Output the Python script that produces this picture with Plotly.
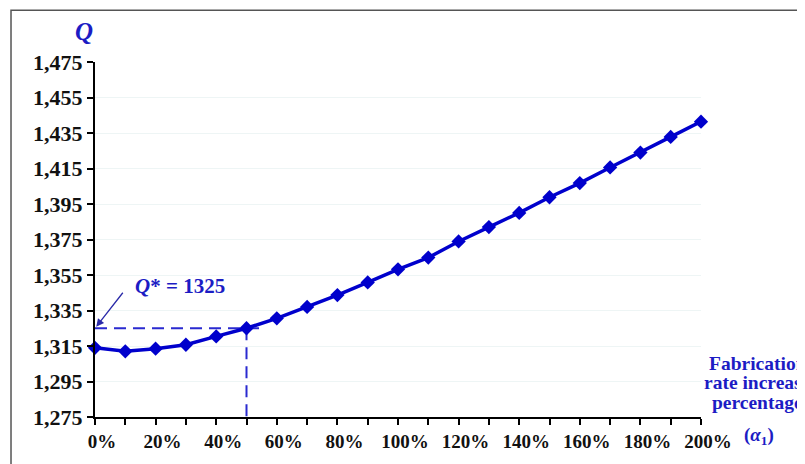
import plotly.graph_objects as go

# ---- data ----
alpha_pct = [0, 10, 20, 30, 40, 50, 60, 70, 80, 90, 100,
             110, 120, 130, 140, 150, 160, 170, 180, 190, 200]
q_values = [1314.0, 1312.0, 1313.5, 1315.7, 1320.4, 1325.0, 1330.6, 1337.0,
            1343.7, 1350.8, 1358.2, 1364.8, 1373.9, 1382.0, 1390.0, 1398.8,
            1406.8, 1415.6, 1424.0, 1432.8, 1441.4]
x_tick_vals = alpha_pct
x_tick_text = [f"<b>{v}%</b>" if v % 20 == 0 else "" for v in alpha_pct]
y_tick_vals = [1275, 1295, 1315, 1335, 1355, 1375, 1395, 1415, 1435, 1455, 1475]
y_tick_text = [f"<b>{v:,}</b>" for v in y_tick_vals]
q_star = 1325
alpha_star = 50

BLUE = "#0000cc"
TEXT_BLUE = "#1c1cc4"
FONT = "Liberation Serif"

fig = go.Figure()

# dashed guide lines to Q*
fig.add_trace(go.Scatter(x=[0, alpha_star + 5], y=[q_star, q_star], mode="lines",
                         line=dict(color="#2a2ad0", width=2, dash="12px,7px"),
                         hoverinfo="skip", showlegend=False, cliponaxis=False))
fig.add_trace(go.Scatter(x=[alpha_star, alpha_star], y=[q_star, 1275], mode="lines",
                         line=dict(color="#2a2ad0", width=2, dash="12px,7px"),
                         hoverinfo="skip", showlegend=False, cliponaxis=False))

fig.add_trace(go.Scatter(x=alpha_pct, y=q_values, mode="lines+markers",
                         line=dict(color=BLUE, width=3.5),
                         marker=dict(symbol="diamond", size=11, color=BLUE),
                         showlegend=False, cliponaxis=False))

fig.update_layout(
    width=797, height=456,
    margin=dict(l=87, r=104, t=54, b=45),
    paper_bgcolor="white", plot_bgcolor="white",
    font=dict(family=FONT, color="black"),
    xaxis=dict(range=[0, 200], tickmode="array", tickvals=x_tick_vals, ticktext=x_tick_text,
               showline=True, linecolor="black", linewidth=2,
               ticks="outside", ticklen=6, tickwidth=2, tickcolor="black",
               showgrid=False, zeroline=False, ticklabelshift=7,
               tickfont=dict(family=FONT, size=19, color="#111")),
    yaxis=dict(range=[1275, 1475], tickmode="array", tickvals=y_tick_vals, ticktext=y_tick_text,
               showline=True, linecolor="black", linewidth=2,
               ticks="outside", ticklen=6, tickwidth=2, tickcolor="black",
               showgrid=True, gridcolor="#eef5f5", gridwidth=1, zeroline=False,
               tickfont=dict(family=FONT, size=22, color="#111")),
)

# outer frame
fig.add_shape(type="rect", xref="paper", yref="paper",
              x0=-0.1386, x1=1.2, y0=-0.2, y1=1.1457,
              line=dict(color="#555555", width=1.5), fillcolor="rgba(0,0,0,0)", layer="below")

# axis title Q
fig.add_annotation(xref="paper", yref="paper", x=0.0, y=1.086, xanchor="right", yanchor="middle",
                   text="<b><i>Q</i></b>", showarrow=False,
                   font=dict(family=FONT, size=25, color=TEXT_BLUE))

# Q* annotation
fig.add_annotation(x=0, y=q_star, xref="x", yref="y", text="", showarrow=True,
                   ax=29, ay=-37, arrowhead=2, arrowsize=1.2, arrowwidth=1.3,
                   arrowcolor="#2a2aa8", standoff=2)
fig.add_annotation(x=12.5, y=1349, xref="x", yref="y", xanchor="left", yanchor="middle",
                   text="<b><i>Q</i>* = 1325</b>", showarrow=False,
                   font=dict(family=FONT, size=21, color=TEXT_BLUE))

# right side x-axis title
for line_text, ypos in [("Fabrication", 0.150), ("rate increase", 0.096), ("percentage", 0.042)]:
    fig.add_annotation(xref="paper", yref="paper", x=1.094, y=ypos, xanchor="center", yanchor="middle",
                       text=f"<b>{line_text}</b>", showarrow=False,
                       font=dict(family=FONT, size=19.5, color=TEXT_BLUE))
fig.add_annotation(xref="paper", yref="paper", x=1.0677, y=-0.053, xanchor="left", yanchor="middle",
                   text="<b>(<i>α</i><sub>1</sub>)</b>", showarrow=False,
                   font=dict(family=FONT, size=19, color=TEXT_BLUE))

fig.write_html("out.html")
